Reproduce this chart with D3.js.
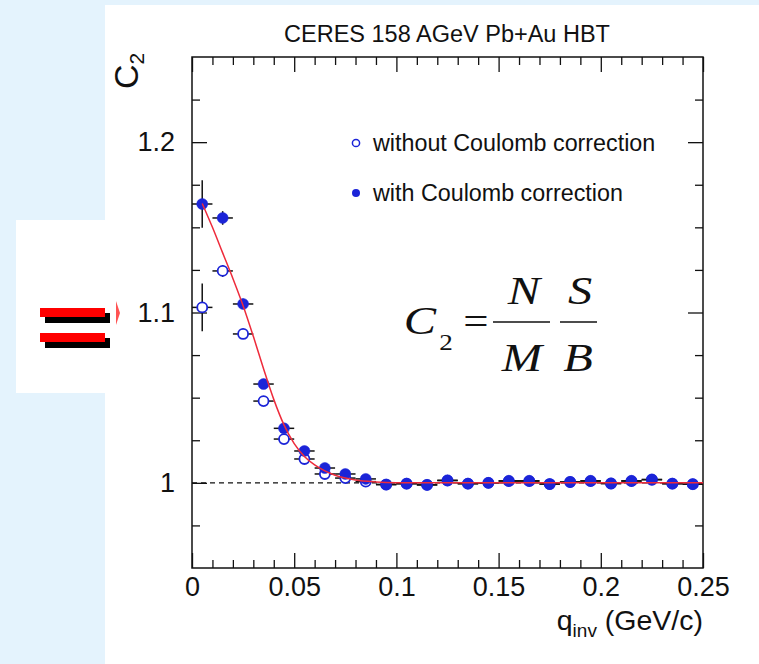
<!DOCTYPE html>
<html>
<head>
<meta charset="utf-8">
<script src="https://cdn.jsdelivr.net/npm/d3@7"></script>
<style>
  html, body { margin: 0; padding: 0; background: #e4f3fd; }
  svg { display: block; }
  text { font-family: "Liberation Sans", Arial, Helvetica, sans-serif; fill: #111; }
</style>
</head>
<body>
<svg id="chart" width="759" height="664"></svg>
<script>
// Bin centres of q_inv (GeV/c), 10 MeV bins
const qBins = [0.005, 0.015, 0.025, 0.035, 0.045, 0.055, 0.065, 0.075, 0.085, 0.095,
               0.105, 0.115, 0.125, 0.135, 0.145, 0.155, 0.165, 0.175, 0.185, 0.195,
               0.205, 0.215, 0.225, 0.235, 0.245];
const qHalfWidth = 0.005;

// C2 with Coulomb correction (filled markers)
const withCoulomb = [1.1637, 1.1555, 1.1050, 1.0580, 1.0320, 1.0187, 1.0087, 1.0052, 1.0023, 0.9990,
                     0.9995, 0.9988, 1.0015, 0.9995, 1.0000, 1.0012, 1.0012, 0.9993, 1.0005, 1.0012,
                     0.9996, 1.0012, 1.0020, 0.9995, 0.9992];
const withCoulombErr = [0.014, 0.004, 0.003, 0.002, 0.002, 0.002, 0.001, 0.001, 0.001, 0.001,
                        0.001, 0.001, 0.001, 0.001, 0.001, 0.001, 0.001, 0.001, 0.001, 0.001,
                        0.001, 0.001, 0.001, 0.001, 0.001];

// C2 without Coulomb correction (open markers)
const withoutCoulomb = [1.1030, 1.1244, 1.0874, 1.0480, 1.0257, 1.0140, 1.0052, 1.0028, 1.0007, 0.9990,
                        0.9995, 0.9988, 1.0013, 0.9995, 1.0000, 1.0010, 1.0010, 0.9993, 1.0005, 1.0010,
                        0.9996, 1.0010, 1.0018, 0.9995, 0.9992];
const withoutCoulombErr = [0.014, 0.0035, 0.003, 0.002, 0.002, 0.002, 0.001, 0.001, 0.001, 0.001,
                           0.001, 0.001, 0.001, 0.001, 0.001, 0.001, 0.001, 0.001, 0.001, 0.001,
                           0.001, 0.001, 0.001, 0.001, 0.001];

// Fit curve samples
const fitQ = [0.005, 0.010, 0.015, 0.020, 0.025, 0.030, 0.035, 0.040, 0.045, 0.050,
              0.055, 0.060, 0.065, 0.070, 0.075, 0.080, 0.090, 0.100, 0.120, 0.250];
const fitC = [1.164, 1.150, 1.135, 1.120, 1.104, 1.086, 1.067, 1.049, 1.034, 1.023,
              1.0155, 1.0105, 1.007, 1.0045, 1.0028, 1.0016, 1.0005, 1.0001, 1.0, 1.0];

// Axis ticks
const xMajorTicks = [0, 0.05, 0.10, 0.15, 0.20, 0.25];
const xTickLabels = ["0", "0.05", "0.1", "0.15", "0.2", "0.25"];
const xMinorTicks = [0.01, 0.02, 0.03, 0.04, 0.06, 0.07, 0.08, 0.09, 0.11, 0.12, 0.13, 0.14,
                     0.16, 0.17, 0.18, 0.19, 0.21, 0.22, 0.23, 0.24];
const yMajorTicks = [1.0, 1.1, 1.2];
const yTickLabels = ["1", "1.1", "1.2"];
const yMinorTicks = [0.975, 1.025, 1.05, 1.075, 1.125, 1.15, 1.175, 1.225];

const titleText = "CERES 158 AGeV Pb+Au HBT";
const legendLabels = ["without Coulomb correction", "with Coulomb correction"];

const blue = "#1b24d8";
const svg = d3.select("#chart");

// Slide background panels
svg.append("rect").attr("x", 0).attr("y", 0).attr("width", 759).attr("height", 664).attr("fill", "#e4f3fd");
svg.append("rect").attr("x", 105).attr("y", 5).attr("width", 654).attr("height", 659).attr("fill", "#fff");
svg.append("rect").attr("x", 16).attr("y", 220).attr("width", 90).attr("height", 173).attr("fill", "#fff");

// Equals sign decoration with drop shadow
[308, 333].forEach(yy => {
  svg.append("rect").attr("x", 45).attr("y", yy + 5).attr("width", 65).attr("height", 10).attr("fill", "#000");
  svg.append("rect").attr("x", 40).attr("y", yy).attr("width", 65).attr("height", 9).attr("fill", "#ff0000");
});
svg.append("path").attr("d", "M116,301 L120,313 L116,325 Z").attr("fill", "#ff1a1a").attr("opacity", 0.75);

const x = d3.scaleLinear().domain([0, 0.25]).range([192, 703]);
const y = d3.scaleLinear().domain([0.95, 1.25]).range([568, 57]);

const axisStyle = g => {
  g.select(".domain").remove();
  g.selectAll(".tick line").attr("stroke", "#111").attr("stroke-width", 1.3);
};
const labelStyle = g => g.selectAll("text").attr("font-size", 27).attr("fill", "#111")
  .attr("font-family", "Liberation Sans, Arial, sans-serif");

// Bottom axis
svg.append("g").attr("transform", "translate(0,568)")
  .call(d3.axisBottom(x).tickValues(xMajorTicks).tickSize(-15).tickPadding(9)
        .tickFormat((d, i) => xTickLabels[i]))
  .call(axisStyle).call(labelStyle);
svg.append("g").attr("transform", "translate(0,568)")
  .call(d3.axisBottom(x).tickValues(xMinorTicks).tickSize(-8).tickFormat(""))
  .call(axisStyle);
// Top axis
svg.append("g").attr("transform", "translate(0,57)")
  .call(d3.axisTop(x).tickValues(xMajorTicks).tickSize(-15).tickFormat(""))
  .call(axisStyle);
svg.append("g").attr("transform", "translate(0,57)")
  .call(d3.axisTop(x).tickValues(xMinorTicks).tickSize(-8).tickFormat(""))
  .call(axisStyle);
// Left axis
svg.append("g").attr("transform", "translate(192,0)")
  .call(d3.axisLeft(y).tickValues(yMajorTicks).tickSize(-15).tickPadding(17)
        .tickFormat((d, i) => yTickLabels[i]))
  .call(axisStyle).call(labelStyle);
svg.append("g").attr("transform", "translate(192,0)")
  .call(d3.axisLeft(y).tickValues(yMinorTicks).tickSize(-8).tickFormat(""))
  .call(axisStyle);
// Right axis
svg.append("g").attr("transform", "translate(703,0)")
  .call(d3.axisRight(y).tickValues(yMajorTicks).tickSize(-15).tickFormat(""))
  .call(axisStyle);
svg.append("g").attr("transform", "translate(703,0)")
  .call(d3.axisRight(y).tickValues(yMinorTicks).tickSize(-8).tickFormat(""))
  .call(axisStyle);

// Frame
svg.append("rect").attr("x", x(0)).attr("y", y(1.25))
  .attr("width", x(0.25) - x(0)).attr("height", y(0.95) - y(1.25))
  .attr("fill", "none").attr("stroke", "#111").attr("stroke-width", 1.5);

// Reference line at C2 = 1
svg.append("line").attr("x1", x(0)).attr("x2", x(0.25)).attr("y1", y(1)).attr("y2", y(1))
  .attr("stroke", "#111").attr("stroke-width", 1.3).attr("stroke-dasharray", "5,4");

// Data series with error bars
function drawSeries(values, errs, filled) {
  const g = svg.append("g");
  const pts = qBins.map((q, i) => ({ q, c: values[i], e: errs[i] }));
  g.selectAll(".hbar").data(pts).join("line")
    .attr("x1", d => x(d.q - qHalfWidth)).attr("x2", d => x(d.q + qHalfWidth))
    .attr("y1", d => y(d.c)).attr("y2", d => y(d.c))
    .attr("stroke", "#111").attr("stroke-width", 1.5);
  g.selectAll(".vbar").data(pts).join("line")
    .attr("x1", d => x(d.q)).attr("x2", d => x(d.q))
    .attr("y1", d => y(d.c - d.e)).attr("y2", d => y(d.c + d.e))
    .attr("stroke", "#111").attr("stroke-width", 1.5);
  g.selectAll("circle").data(pts).join("circle")
    .attr("cx", d => x(d.q)).attr("cy", d => y(d.c))
    .attr("r", filled ? 5.5 : 5)
    .attr("fill", filled ? blue : "#fff")
    .attr("stroke", blue).attr("stroke-width", filled ? 0.5 : 1.8);
}
drawSeries(withoutCoulomb, withoutCoulombErr, false);
drawSeries(withCoulomb, withCoulombErr, true);

// Fit function
const fitLine = d3.line().x((d, i) => x(fitQ[i])).y(d => y(d)).curve(d3.curveMonotoneX);
svg.append("path").attr("d", fitLine(fitC))
  .attr("fill", "none").attr("stroke", "#ee2b3b").attr("stroke-width", 1.5);

// Title
svg.append("text").attr("x", 447).attr("y", 42).attr("text-anchor", "middle")
  .attr("font-size", 23.5).text(titleText);

// Y axis title C_2
const yTitle = svg.append("text").attr("transform", "translate(138,89) rotate(-90)")
  .attr("font-size", 34);
yTitle.append("tspan").text("C");
yTitle.append("tspan").attr("font-size", 21).attr("dy", 6).text("2");

// X axis title q_inv (GeV/c)
const xTitle = svg.append("text").attr("x", 703).attr("y", 630).attr("text-anchor", "end")
  .attr("font-size", 28.5);
xTitle.append("tspan").text("q");
xTitle.append("tspan").attr("font-size", 19).attr("dy", 7).text("inv");
xTitle.append("tspan").attr("dy", -7).text(" (GeV/c)");

// Legend
const legend = svg.append("g");
legend.append("circle").attr("cx", 356).attr("cy", 143).attr("r", 3.6)
  .attr("fill", "#fff").attr("stroke", blue).attr("stroke-width", 1.5);
legend.append("circle").attr("cx", 356).attr("cy", 193).attr("r", 4)
  .attr("fill", blue);
legend.append("text").attr("x", 373).attr("y", 151).attr("font-size", 23.3).text(legendLabels[0]);
legend.append("text").attr("x", 373).attr("y", 201).attr("font-size", 23.3).text(legendLabels[1]);

// Formula C2 = N/M S/B, glyphs slightly widened
const serif = "Liberation Serif, Times New Roman, serif";
const f = svg.append("g");
const ftext = (tx, ty, s, size, style) => f.append("text")
  .attr("transform", `translate(${tx},${ty}) scale(1.18,1)`)
  .attr("font-size", size).attr("font-style", style).attr("text-anchor", "middle")
  .style("font-family", serif).text(s);
ftext(420, 334, "C", 41, "italic");
ftext(446, 350, "2", 23, "normal");
ftext(476, 334, "=", 38, "normal");
ftext(524, 304, "N", 41, "italic");
ftext(522, 371, "M", 41, "italic");
ftext(580, 304, "S", 41, "italic");
ftext(578, 371, "B", 41, "italic");
f.append("line").attr("x1", 493).attr("x2", 550).attr("y1", 322).attr("y2", 322)
  .attr("stroke", "#111").attr("stroke-width", 1.6);
f.append("line").attr("x1", 560).attr("x2", 597).attr("y1", 322).attr("y2", 322)
  .attr("stroke", "#111").attr("stroke-width", 1.6);
</script>
</body>
</html>
